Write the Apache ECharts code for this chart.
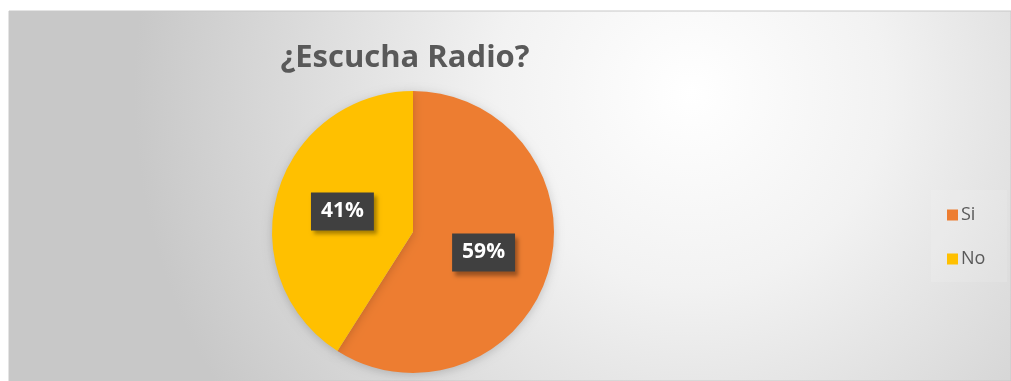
<!DOCTYPE html>
<html><head><meta charset="utf-8">
<script src="https://cdn.jsdelivr.net/npm/echarts@6/dist/echarts.min.js"></script>
<style>html,body{margin:0;padding:0;background:#fff}#c{width:1011px;height:381px}</style>
</head><body><div id="c"></div>
<script>
const titleText = '¿Escucha Radio?';
const categories = ['Si', 'No'];
const values = [59, 41];
const colors = ['#ED7D31', '#FFC000'];

const chart = echarts.init(document.getElementById('c'));
chart.setOption({
  animation: false,
  graphic: [{
    type: 'rect', z: -10, silent: true,
    shape: { x: 9, y: 11, width: 1002, height: 370 },
    style: {
      fill: new echarts.graphic.RadialGradient(0.68, 0.22, 1.5, [
        { offset: 0, color: '#ffffff' },
        { offset: 0.35, color: '#f2f2f2' },
        { offset: 1, color: '#c8c8c8' }
      ]),
      stroke: '#c8c8c8', lineWidth: 1
    }
  }, {
    type: 'rect', z: -5, silent: true,
    shape: { x: 931, y: 190, width: 76, height: 92 },
    style: { fill: 'rgba(255,255,255,0.12)' }
  }],
  title: {
    text: titleText, left: 400, top: 38, textAlign: 'center',
    textStyle: { fontFamily: 'Open Sans', fontWeight: 'bold', fontSize: 31, color: '#595959' }
  },
  legend: {
    orient: 'vertical', left: 942, top: 201, itemWidth: 11, itemHeight: 11, itemGap: 26,
    icon: 'rect', itemStyle: { borderWidth: 0 },
    textStyle: { fontFamily: 'Open Sans', fontSize: 18, color: '#595959', padding: [0, 0, 0, -2] },
    data: categories
  },
  series: [{
    type: 'pie', center: [413, 232], radius: 141, startAngle: 90, clockwise: true,
    avoidLabelOverlap: false,
    itemStyle: { shadowBlur: 10, shadowColor: 'rgba(0,0,0,0.18)', shadowOffsetY: 2 },
    label: {
      show: true, position: 'inside', formatter: '{d}%',
      fontFamily: 'Open Sans', fontWeight: 'bold', fontSize: 21, color: '#ffffff',
      backgroundColor: '#404040', padding: [10, 10, 7, 10],
      shadowBlur: 4, shadowOffsetX: 3, shadowOffsetY: 4, shadowColor: 'rgba(0,0,0,0.35)'
    },
    labelLine: { show: false },
    data: categories.map((n, i) => ({ name: n, value: values[i], itemStyle: { color: colors[i] } }))
  }]
});
</script></body></html>
